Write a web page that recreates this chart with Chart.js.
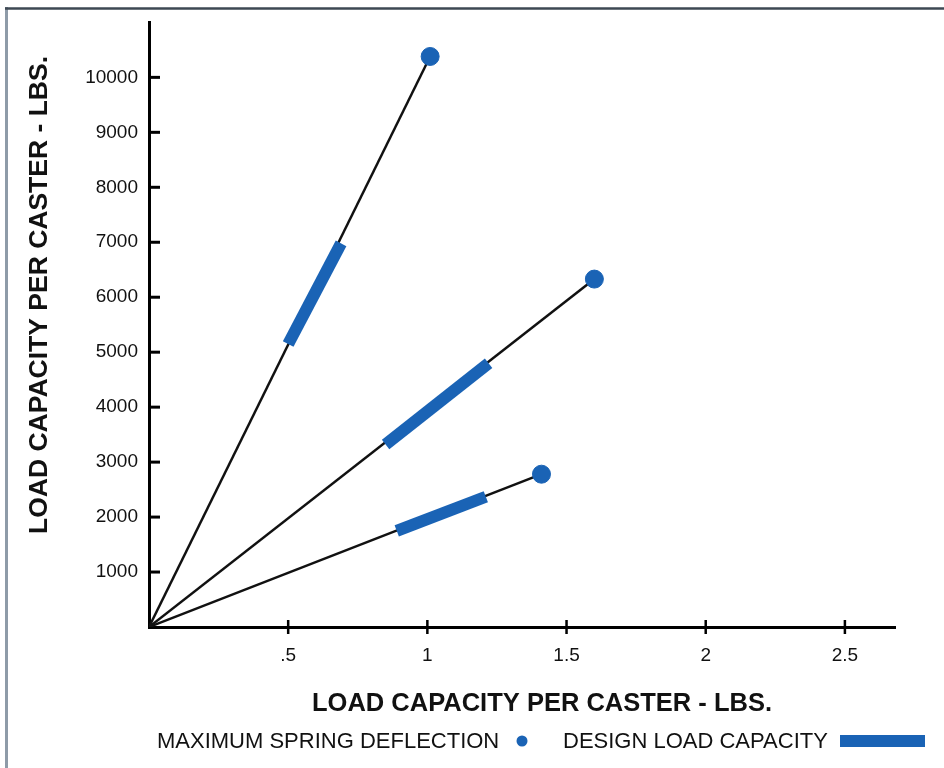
<!DOCTYPE html>
<html>
<head>
<meta charset="utf-8">
<script src="https://cdn.jsdelivr.net/npm/chart.js"></script>
<style>
  html, body { margin: 0; padding: 0; background: #fff; }
  #wrap { width: 944px; height: 768px; }
</style>
</head>
<body>
<div id="wrap"><canvas id="c" width="944" height="768"></canvas></div>
<script>
// deflection (x) vs load (y) for three spring rates
const maxDeflection = [1.01, 1.6, 1.41];
const maxLoad = [10380, 6330, 2780];
const designStartX = [0.5, 0.85, 0.89];
const designStartY = [5150, 3320, 1750];
const designEndX = [0.69, 1.22, 1.21];
const designEndY = [6980, 4800, 2370];
const xTicks = [0.5, 1, 1.5, 2, 2.5];
const yTicks = [1000, 2000, 3000, 4000, 5000, 6000, 7000, 8000, 9000, 10000];

const axisTitle = "LOAD CAPACITY PER CASTER - LBS.";
const legendDot = "MAXIMUM SPRING DEFLECTION";
const legendBar = "DESIGN LOAD CAPACITY";

const BLUE = "#1a63b5";
const FONT = "'Liberation Sans', Arial, Helvetica, sans-serif";

const datasets = [];
maxDeflection.forEach((x, i) => {
    datasets.push({
        data: [{ x: 0, y: 0 }, { x, y: maxLoad[i] }],
        borderColor: "#111",
        borderWidth: 2.5,
        pointRadius: 0,
        order: 3
    });
    datasets.push({
        data: [{ x: designStartX[i], y: designStartY[i] }, { x: designEndX[i], y: designEndY[i] }],
        borderColor: BLUE,
        borderWidth: 12,
        borderCapStyle: "butt",
        pointRadius: 0,
        order: 2
    });
});
datasets.push({
    data: maxDeflection.map((x, i) => ({ x, y: maxLoad[i] })),
    showLine: false,
    pointRadius: 9,
    pointBackgroundColor: BLUE,
    pointBorderColor: BLUE,
    order: 1
});

const decor = {
    id: "decor",
    afterDraw(chart) {
        const { ctx, chartArea: a, scales: { x, y } } = chart;
        ctx.save();
        // frame
        ctx.strokeStyle = "#8e9ba8";
        ctx.lineWidth = 3;
        ctx.beginPath(); ctx.moveTo(6.5, 7); ctx.lineTo(6.5, 768); ctx.stroke();
        ctx.strokeStyle = "#3d4853";
        ctx.lineWidth = 2.5;
        ctx.beginPath(); ctx.moveTo(5, 8.5); ctx.lineTo(944, 8.5); ctx.stroke();

        // axis ticks
        ctx.strokeStyle = "#000";
        ctx.lineWidth = 3;
        yTicks.forEach(v => {
            const py = y.getPixelForValue(v);
            ctx.beginPath(); ctx.moveTo(a.left, py); ctx.lineTo(a.left + 11, py); ctx.stroke();
        });
        ctx.lineWidth = 2.5;
        xTicks.forEach(v => {
            const px = x.getPixelForValue(v);
            ctx.beginPath(); ctx.moveTo(px, a.bottom - 7); ctx.lineTo(px, a.bottom + 7); ctx.stroke();
        });

        // axis titles
        ctx.fillStyle = "#111";
        ctx.font = "bold 25.5px " + FONT;
        ctx.textAlign = "center";
        ctx.textBaseline = "middle";
        ctx.fillText(axisTitle, 542, 704);
        ctx.save();
        ctx.translate(40, 295);
        ctx.rotate(-Math.PI / 2);
        ctx.font = "bold 26.5px " + FONT;
        ctx.fillText(axisTitle, 0, 0);
        ctx.restore();

        // legend
        ctx.font = "22px " + FONT;
        ctx.textAlign = "left";
        ctx.fillText(legendDot, 157, 742);
        ctx.fillStyle = BLUE;
        ctx.beginPath(); ctx.arc(522, 741, 5.5, 0, Math.PI * 2); ctx.fill();
        ctx.fillStyle = "#111";
        ctx.fillText(legendBar, 563, 742);
        ctx.fillStyle = BLUE;
        ctx.fillRect(840, 735, 85, 12);
        ctx.restore();
    }
};

new Chart(document.getElementById("c"), {
    type: "line",
    data: { datasets },
    options: {
        responsive: false,
        animation: false,
        layout: { padding: { left: 0, top: 20, right: 49, bottom: 100 } },
        plugins: { legend: { display: false }, tooltip: { enabled: false } },
        scales: {
            x: {
                type: "linear",
                min: 0,
                max: 2.68,
                afterFit: s => { s.height = 41; },
                afterBuildTicks: s => { s.ticks = xTicks.map(value => ({ value })); },
                grid: { drawOnChartArea: false, drawTicks: false },
                border: { display: true, color: "#000", width: 3 },
                ticks: {
                    padding: 17,
                    color: "#111",
                    font: { family: FONT, size: 19 },
                    callback: v => (v === 0.5 ? ".5" : String(v))
                }
            },
            y: {
                type: "linear",
                min: 0,
                max: 11000,
                afterFit: s => { s.width = 149; },
                afterBuildTicks: s => { s.ticks = yTicks.map(value => ({ value })); },
                grid: { drawOnChartArea: false, drawTicks: false },
                border: { display: true, color: "#000", width: 3 },
                ticks: {
                    padding: 11,
                    color: "#111",
                    font: { family: FONT, size: 19 },
                    callback: v => String(v)
                }
            }
        }
    },
    plugins: [decor]
});
</script>
</body>
</html>
